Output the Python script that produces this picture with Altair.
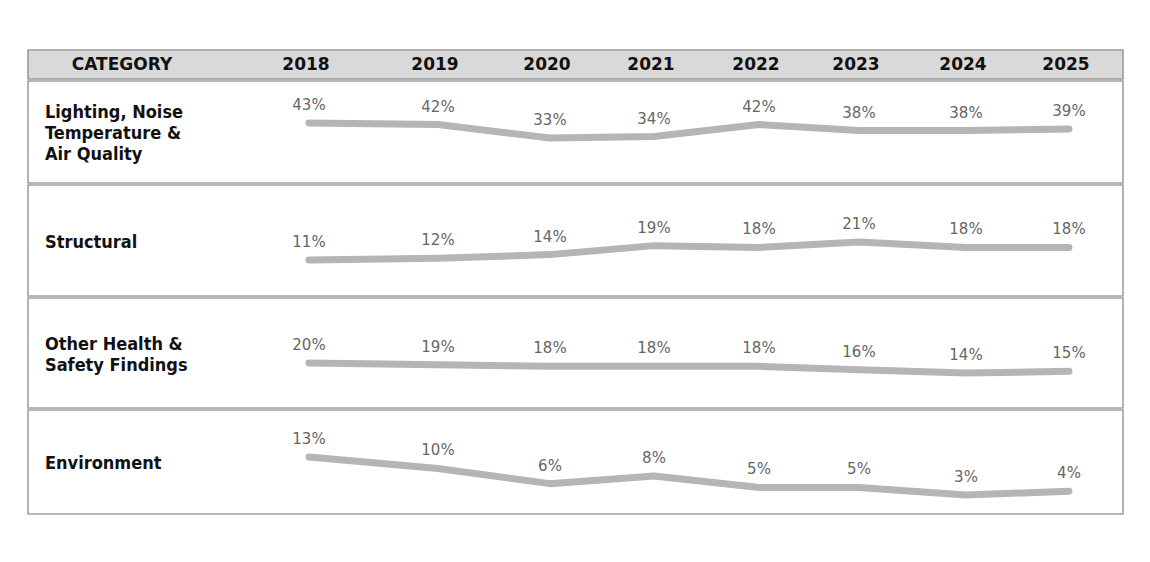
import altair as alt
import pandas as pd

years = [2018, 2019, 2020, 2021, 2022, 2023, 2024, 2025]
categories = [
    "Lighting, Noise\nTemperature &\nAir Quality",
    "Structural",
    "Other Health &\nSafety Findings",
    "Environment",
]
lighting = [43, 42, 33, 34, 42, 38, 38, 39]
structural = [11, 12, 14, 19, 18, 21, 18, 18]
other_hs = [20, 19, 18, 18, 18, 16, 14, 15]
environment = [13, 10, 6, 8, 5, 5, 3, 4]
series = [lighting, structural, other_hs, environment]

W = 1095
row_heights = [102, 111, 110, 104]
y_domains = [[3, 71], [-9, 52.7], [-7, 59], [-2, 25.4]]

x_scale = alt.Scale(domain=years, range=[281, 410, 522, 626, 731, 831, 938, 1041],
                    nice=False, zero=False)

CAT_FONT = "Liberation Sans Narrow, DejaVu Sans Condensed, Arial Narrow, sans-serif"
HEAD_FONT = "DejaVu Sans, Verdana, sans-serif"
LAB_FONT = "DejaVu Sans, Verdana, sans-serif"
LINE_H = 21

header_df = pd.DataFrame({"year": years, "label": [str(y) for y in years]})
header = alt.layer(
    alt.Chart(header_df).mark_text(
        font=HEAD_FONT, fontWeight="bold", fontSize=17, color="#111111", baseline="middle",
        dx=-3
    ).encode(x=alt.X("year:Q", scale=x_scale, axis=None), y=alt.value(15), text="label:N"),
    alt.Chart(pd.DataFrame({"label": ["CATEGORY"]})).mark_text(
        font=HEAD_FONT, fontWeight="bold", fontSize=17, color="#111111", baseline="middle"
    ).encode(x=alt.value(94), y=alt.value(15), text="label:N"),
).properties(width=W, height=29,
             view=alt.ViewBackground(fill="#d9d9d9", stroke="#9a9a9a", strokeWidth=1.6))


def make_row(cat, vals, h, dom):
    df = pd.DataFrame({"year": years, "value": vals, "label": [f"{v}%" for v in vals]})
    x = alt.X("year:Q", scale=x_scale, axis=None)
    y = alt.Y("value:Q", scale=alt.Scale(domain=dom, nice=False, zero=False), axis=None)
    line = alt.Chart(df).mark_line(
        color="#b5b5b5", strokeWidth=7, strokeCap="round", strokeJoin="round",
        interpolate="linear"
    ).encode(x=x, y=y)
    labels = alt.Chart(df).mark_text(
        dy=-18, font=LAB_FONT, fontSize=15, color="#666666", baseline="middle"
    ).encode(x=x, y=y, text="label:N")
    n_lines = cat.count("\n") + 1
    name = alt.Chart(pd.DataFrame({"cat": [cat]})).mark_text(
        align="left", baseline="middle", lineBreak="\n", font=CAT_FONT, fontSize=18,
        fontWeight="bold", lineHeight=LINE_H, color="#111111"
    ).encode(x=alt.value(17), y=alt.value(h / 2 + 2 - (n_lines - 1) * LINE_H / 2),
             text="cat:N")
    return alt.layer(line, labels, name).properties(width=W, height=h)


rows = [make_row(c, s, h, d) for c, s, h, d in zip(categories, series, row_heights, y_domains)]

chart = alt.vconcat(header, *rows, spacing=0).resolve_scale(
    x="shared", y="independent"
).properties(
    padding={"left": 19, "top": 41, "right": 10, "bottom": 10}
).configure_view(stroke="#a0a0a0", strokeWidth=1.6)

chart.save("out.html", embed_options={"renderer": "svg", "actions": False})
